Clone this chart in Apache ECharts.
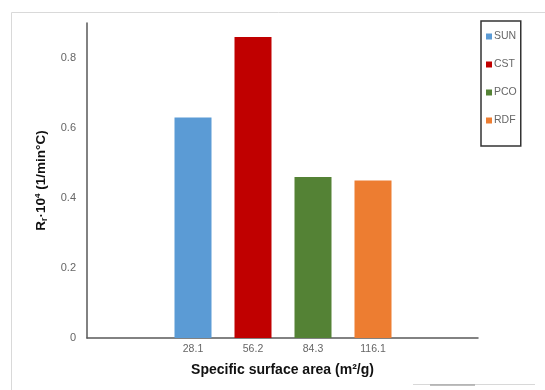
<!DOCTYPE html>
<html><head><meta charset="utf-8">
<script src="https://cdn.jsdelivr.net/npm/echarts@6/dist/echarts.min.js"></script>
<style>html,body{margin:0;padding:0;background:#fff}#c{width:545px;height:390px}</style>
</head><body><div id="c"></div>
<script>
const categories = ['28.1', '56.2', '84.3', '116.1'];
const seriesNames = ['SUN', 'CST', 'PCO', 'RDF'];
const values = [0.63, 0.86, 0.46, 0.45];
const colors = ['#5b9bd5', '#c00000', '#548235', '#ed7d31'];
const yTicks = [0, 0.2, 0.4, 0.6, 0.8];

const chart = echarts.init(document.getElementById('c'));
const series = seriesNames.map((n, i) => ({
  name: n, type: 'bar', xAxisIndex: 1, yAxisIndex: 1, stack: 'all',
  barWidth: 37, itemStyle: { color: colors[i] },
  data: categories.map((c, j) => (j === i ? values[i] : null))
}));
chart.setOption({
  animation: false,
  grid: [
    { left: 87, right: 67, top: 23, bottom: 52 },
    { left: 163, width: 240, top: 23, bottom: 52 }
  ],
  xAxis: [
    { gridIndex: 0, type: 'value', min: 0, max: 1,
      axisLine: { show: true, lineStyle: { color: '#595959', width: 1.5 } },
      axisTick: { show: false }, axisLabel: { show: false }, splitLine: { show: false },
      name: 'Specific surface area (m²/g)', nameLocation: 'middle', nameGap: 25,
      nameTextStyle: { fontFamily: 'Liberation Sans', fontWeight: 'bold', fontSize: 14, color: '#111' } },
    { gridIndex: 1, type: 'category', data: categories,
      axisLine: { show: false }, axisTick: { show: false },
      axisLabel: { color: '#666', fontSize: 10.5, fontFamily: 'Liberation Sans', margin: 6 } }
  ],
  yAxis: [
    { gridIndex: 0, type: 'value', min: 0, max: 0.9, interval: 0.2,
      axisLine: { show: true, lineStyle: { color: '#595959', width: 1.5 } },
      axisTick: { show: false }, splitLine: { show: false },
      axisLabel: { color: '#666', fontSize: 11, fontFamily: 'Liberation Sans', margin: 11,
        formatter: v => (yTicks.some(t => Math.abs(t - v) < 1e-9) ? String(+v.toFixed(1)) : '') },
      name: '{b|R}{s|r}{b|·10}{p|4}{b| (1/min°C)}', nameLocation: 'middle', nameGap: 38, nameRotate: 90,
      nameTextStyle: { rich: {
        b: { fontFamily: 'Liberation Sans', fontWeight: 'bold', fontSize: 13.5, color: '#111' },
        s: { fontFamily: 'Liberation Sans', fontWeight: 'bold', fontSize: 9, color: '#111', verticalAlign: 'bottom', padding: [6, 0, 0, 0] },
        p: { fontFamily: 'Liberation Sans', fontWeight: 'bold', fontSize: 8, color: '#111', verticalAlign: 'top', padding: [0, 0, 6, 0] }
      } } },
    { gridIndex: 1, type: 'value', min: 0, max: 0.9, show: false }
  ],
  legend: {
    orient: 'vertical', left: 481, top: 21, width: 43,
    itemWidth: 6, itemHeight: 6, itemGap: 17, icon: 'rect',
    padding: [10, 4, 20, 5], borderColor: '#333', borderWidth: 1.5,
    textStyle: { color: '#666', fontSize: 10.5, fontFamily: 'Liberation Sans', padding: [0, 0, 0, -3] },
    data: seriesNames
  },
  graphic: [
    { type: 'rect', shape: { x: 11.5, y: 12.5, width: 560, height: 400 }, style: { fill: 'none', stroke: '#d9d9d9', lineWidth: 1 }, z: -1 },
    { type: 'line', shape: { x1: 413, y1: 384.5, x2: 535, y2: 384.5 }, style: { stroke: '#d8d8d8', lineWidth: 1 } },
    { type: 'line', shape: { x1: 430, y1: 385, x2: 475, y2: 385 }, style: { stroke: '#aaa', lineWidth: 1.5 } }
  ],
  series: series
});
</script></body></html>
